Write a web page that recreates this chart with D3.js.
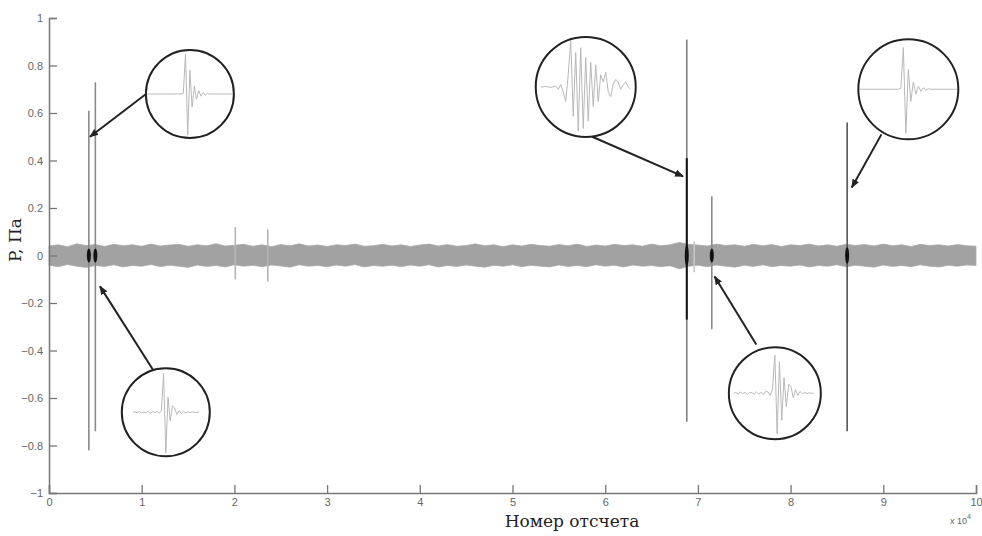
<!DOCTYPE html>
<html>
<head>
<meta charset="utf-8">
<script src="https://cdn.jsdelivr.net/npm/d3@7"></script>
<style>
  body { margin: 0; background: #fff; }
  svg { display: block; }
</style>
</head>
<body>
<svg id="chart" width="982" height="536"></svg>
<script>
// ---- data ----
// noise band envelope, one value per 1000 samples (0 .. 100000)
var noiseUpper = [0.04,0.045,0.037,0.049,0.042,0.046,0.038,0.047,0.041,0.045,
  0.039,0.048,0.04,0.044,0.047,0.039,0.045,0.041,0.05,0.04,
  0.043,0.047,0.039,0.045,0.037,0.046,0.041,0.049,0.04,0.044,
  0.038,0.045,0.042,0.048,0.039,0.041,0.047,0.04,0.045,0.038,
  0.044,0.048,0.04,0.046,0.039,0.042,0.049,0.041,0.045,0.037,
  0.045,0.04,0.047,0.042,0.039,0.046,0.041,0.048,0.038,0.044,
  0.04,0.047,0.042,0.045,0.039,0.048,0.041,0.045,0.055,0.047,
  0.044,0.04,0.048,0.042,0.045,0.039,0.047,0.041,0.046,0.038,
  0.045,0.042,0.048,0.04,0.045,0.039,0.047,0.042,0.046,0.04,
  0.048,0.041,0.045,0.038,0.047,0.042,0.045,0.04,0.046,0.041,0.039];
var noiseLower = [-0.041,-0.047,-0.038,-0.045,-0.05,-0.042,-0.046,-0.039,-0.048,-0.042,
  -0.045,-0.038,-0.047,-0.041,-0.045,-0.05,-0.04,-0.046,-0.042,-0.048,
  -0.039,-0.045,-0.041,-0.047,-0.04,-0.044,-0.049,-0.039,-0.045,-0.042,
  -0.047,-0.04,-0.045,-0.038,-0.048,-0.042,-0.045,-0.041,-0.047,-0.04,
  -0.045,-0.039,-0.048,-0.042,-0.046,-0.04,-0.045,-0.049,-0.041,-0.045,
  -0.039,-0.047,-0.041,-0.045,-0.048,-0.04,-0.046,-0.042,-0.047,-0.039,
  -0.045,-0.041,-0.048,-0.04,-0.045,-0.042,-0.047,-0.043,-0.056,-0.045,
  -0.041,-0.047,-0.04,-0.045,-0.049,-0.041,-0.046,-0.039,-0.047,-0.042,
  -0.045,-0.04,-0.048,-0.042,-0.045,-0.039,-0.047,-0.041,-0.045,-0.049,
  -0.04,-0.046,-0.042,-0.047,-0.039,-0.045,-0.048,-0.041,-0.045,-0.04,-0.042];

// single impulses
var spikeX      = [4300, 5000, 20100, 23600, 68800, 69600, 71500, 86100];
var spikeTop    = [0.61, 0.73, 0.12, 0.11, 0.91, 0.06, 0.25, 0.56];
var spikeBottom = [-0.82, -0.74, -0.10, -0.11, -0.70, -0.07, -0.31, -0.74];
var spikeColor  = ["#8a8a8a", "#8a8a8a", "#b4b4b4", "#b4b4b4", "#808080", "#c8c8c8", "#8a8a8a", "#555"];

// dark part of the main impulse at 68800
var coreX = 68800, coreTop = 0.41, coreBottom = -0.27;

// black blobs on the noise band
var blobX = [4300, 5000, 68800, 71500, 86100];
var blobH = [0.03, 0.03, 0.045, 0.03, 0.035];

// zoom insets: centre, arrow start, arrow end (sample, P)
var insetCx = [15200, 12600, 57900, 78300, 92700];
var insetCy = [0.68, -0.66, 0.71, -0.58, 0.70];
var insetR  = [44, 44, 50, 46, 50];
var arrowX0 = [10400, 11200, 58600, 76300, 89800];
var arrowY0 = [0.678, -0.48, 0.50, -0.375, 0.51];
var arrowX1 = [4420, 5500, 68400, 71800, 86600];
var arrowY1 = [0.50, -0.13, 0.333, -0.088, 0.286];

// waveform shapes inside the insets (normalised, 41 points across the circle)
var insetWave = [
  [0,0,0,0,0,0,0,0,0,0,0,0,0,0,0,0,0,0.02,0.92,-0.95,0.55,-0.3,0.18,-0.12,0.08,-0.05,0.03,-0.02,0.01,0,0,0,0,0,0,0,0,0,0,0,0],
  [null,null,null,null,null,0,0.01,-0.01,0.02,-0.02,0.01,-0.01,0.02,-0.03,0.02,-0.01,0.02,-0.02,0.03,0.9,-0.95,0.35,-0.2,0.15,0.1,-0.05,0.04,-0.03,0.02,-0.02,0.01,-0.01,0.01,0,0,0,null,null,null,null,null],
  [null,null,0,0,0.01,0,-0.01,0,0.02,-0.05,0.05,-0.1,-0.3,0.25,0.95,-0.6,0.7,-0.9,0.8,-0.85,0.6,-0.7,0.5,-0.4,0.45,-0.3,0.25,0.1,0.3,-0.1,-0.2,0.05,0.15,0.1,-0.05,0.05,0.1,0,-0.05,null,null],
  [null,null,0,0.02,-0.02,0.03,-0.01,0.02,-0.03,0.02,0.01,-0.02,0.03,-0.02,0.02,-0.03,0.04,0.03,-0.05,0.1,0.85,-0.9,0.7,-0.6,0.35,-0.3,0.2,0.15,-0.1,0.08,-0.05,0.04,-0.02,0.02,-0.01,0.01,0,0,null,null,null],
  [0,0,0,0,0,0,0,0,0,0,0,0,0,0,0,0,0,0.02,0.85,-0.9,0.4,-0.25,0.15,-0.1,0.06,-0.04,0.03,-0.02,0.01,0,0,0,0,0,0,0,0,0,0,0,0]
];

var xTicks = [0,10000,20000,30000,40000,50000,60000,70000,80000,90000,100000];
var yTicks = [-1,-0.8,-0.6,-0.4,-0.2,0,0.2,0.4,0.6,0.8,1];

// ---- layout ----
var width = 982, height = 536,
    margins = {top: 18, bottom: 43, left: 49, right: 6};

var svg = d3.select("#chart");

var x = d3.scaleLinear().domain([0, 100000]).range([margins.left, width - margins.right]);
var y = d3.scaleLinear().domain([-1, 1]).range([height - margins.bottom, margins.top]);

// noise band
var band = d3.area()
    .x((d, i) => x(i * 1000))
    .y0((d, i) => y(noiseLower[i]))
    .y1(d => y(d));
svg.append("path")
    .attr("d", band(noiseUpper))
    .attr("fill", "#a2a2a2")
    .attr("stroke", "#aaa")
    .attr("stroke-width", 0.8);

// impulses
svg.append("g").selectAll("line")
    .data(spikeX).enter()
    .append("line")
    .attr("x1", d => x(d)).attr("x2", d => x(d))
    .attr("y1", (d, i) => y(spikeTop[i]))
    .attr("y2", (d, i) => y(spikeBottom[i]))
    .attr("stroke", (d, i) => spikeColor[i])
    .attr("stroke-width", 1.6);

svg.append("line")
    .attr("x1", x(coreX)).attr("x2", x(coreX))
    .attr("y1", y(coreTop)).attr("y2", y(coreBottom))
    .attr("stroke", "#111").attr("stroke-width", 2);

svg.append("g").selectAll("ellipse")
    .data(blobX).enter()
    .append("ellipse")
    .attr("cx", d => x(d))
    .attr("cy", y(0))
    .attr("rx", 2)
    .attr("ry", (d, i) => y(0) - y(blobH[i]))
    .attr("fill", "#111");

// axes
var yAxis = d3.axisLeft(y).tickValues(yTicks).tickSize(-8).tickPadding(6)
    .tickFormat(d => d === 0 ? "0" : d3.format("")(+d.toFixed(1)));
var xAxis = d3.axisBottom(x).tickValues(xTicks).tickSize(-8).tickPadding(5)
    .tickFormat(d => d / 10000);

var gy = svg.append("g").attr("transform", `translate(${margins.left},0)`).call(yAxis);
var gx = svg.append("g").attr("transform", `translate(0,${height - margins.bottom})`).call(xAxis);
[gx, gy].forEach(g => {
    g.select(".domain").attr("stroke", "#777").attr("stroke-width", 1.5);
    g.selectAll(".tick line").attr("stroke", "#777").attr("stroke-width", 1.3);
    g.selectAll(".tick text")
        .attr("fill", "#666")
        .style("font-family", "Liberation Sans, Arial, sans-serif")
        .style("font-size", "11px");
});

// insets and arrows
var defs = svg.append("defs");
defs.append("marker")
    .attr("id", "head")
    .attr("viewBox", "0 0 10 10")
    .attr("refX", 9).attr("refY", 5)
    .attr("markerWidth", 4.5).attr("markerHeight", 4.5)
    .attr("orient", "auto")
    .append("path").attr("d", "M0,1 L10,5 L0,9 Z").attr("fill", "#222");

insetCx.forEach(function (cx, i) {
    svg.append("line")
        .attr("x1", x(arrowX0[i])).attr("y1", y(arrowY0[i]))
        .attr("x2", x(arrowX1[i])).attr("y2", y(arrowY1[i]))
        .attr("stroke", "#222").attr("stroke-width", 2)
        .attr("marker-end", "url(#head)");

    var px = x(cx), py = y(insetCy[i]), r = insetR[i];
    defs.append("clipPath").attr("id", "clip" + i)
        .append("circle").attr("cx", px).attr("cy", py).attr("r", r - 1);

    svg.append("circle")
        .attr("cx", px).attr("cy", py).attr("r", r)
        .attr("fill", "#fff");

    var wx = d3.scaleLinear().domain([0, 40]).range([px - r, px + r]);
    var wy = d3.scaleLinear().domain([-1, 1]).range([py + r * 0.98, py - r * 0.98]);
    var wave = d3.line()
        .defined(d => d !== null)
        .x((d, j) => wx(j))
        .y(d => wy(d));
    svg.append("path")
        .attr("d", wave(insetWave[i]))
        .attr("clip-path", "url(#clip" + i + ")")
        .attr("fill", "none")
        .attr("stroke", "#b8b8b8")
        .attr("stroke-width", 1);

    svg.append("circle")
        .attr("cx", px).attr("cy", py).attr("r", r)
        .attr("fill", "none")
        .attr("stroke", "#222").attr("stroke-width", 2);
});

// labels
svg.append("text")
    .attr("transform", `translate(21,240) rotate(-90)`)
    .attr("text-anchor", "middle")
    .style("font-family", "DejaVu Serif, serif")
    .style("font-size", "17px")
    .attr("fill", "#222")
    .text("P, Па");

svg.append("text")
    .attr("x", 572).attr("y", 527)
    .attr("text-anchor", "middle")
    .style("font-family", "DejaVu Serif, serif")
    .style("font-size", "17px")
    .attr("fill", "#222")
    .text("Номер отсчета");

var mult = svg.append("text")
    .attr("x", 950).attr("y", 524)
    .style("font-family", "Liberation Sans, Arial, sans-serif")
    .style("font-size", "9px")
    .attr("fill", "#666");
mult.append("tspan").text("x 10");
mult.append("tspan").attr("dy", -5).style("font-size", "7px").text("4");
</script>
</body>
</html>
